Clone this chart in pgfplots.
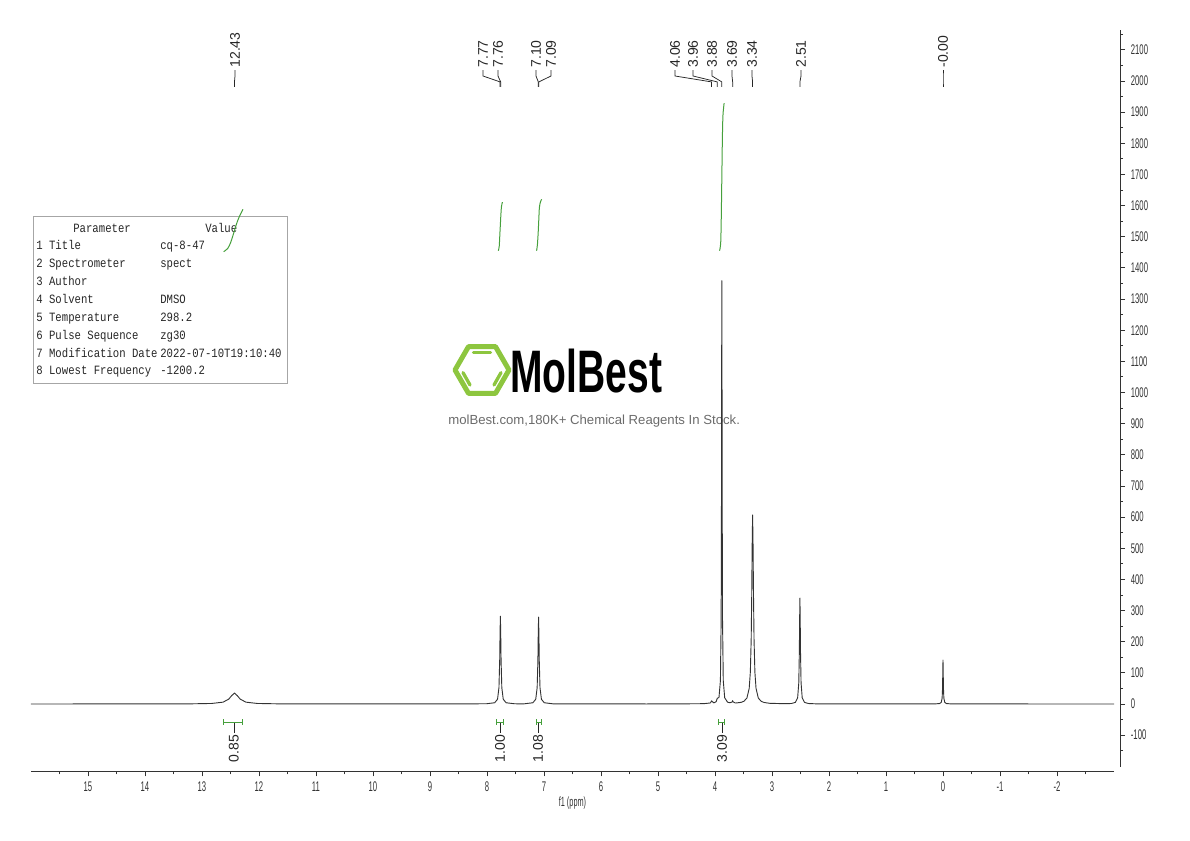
\documentclass[border=0pt]{standalone}
\usepackage{fontspec}
\usepackage{pgfplots}
\pgfplotsset{compat=1.18}
\setmainfont{Liberation Sans}
\newfontfamily\condfont[FakeStretch=0.55]{Liberation Sans}
\newfontfamily\logofont[FakeStretch=0.65]{Liberation Sans Bold}
\newfontfamily\tabfont[FakeStretch=0.84]{Liberation Mono}
\definecolor{intgreen}{RGB}{70,160,60}
\definecolor{logogreen}{RGB}{141,198,63}
\newcommand{\lblfont}{\fontsize{8.4}{9}\selectfont}
\newcommand{\pklabel}[3]{%
  \node[rotate=90, anchor=west, inner sep=0pt, font=\lblfont, text=black!85] at (axis cs:#1,2042) {#3};
  \draw[black!85, line width=0.45pt] (axis cs:#1,2035) -- (axis cs:#1,2016) -- (axis cs:#2,1997) -- (axis cs:#2,1981);
}
\newcommand{\intlabel}[4]{%
  \draw[intgreen, line width=0.6pt] (axis cs:#2,-59) -- (axis cs:#3,-59);
  \draw[intgreen, line width=0.6pt] (axis cs:#2,-49) -- (axis cs:#2,-69);
  \draw[intgreen, line width=0.6pt] (axis cs:#3,-49) -- (axis cs:#3,-69);
  \draw[black!85, line width=0.45pt] (axis cs:#1,-60) -- (axis cs:#1,-92);
  \node[rotate=90, anchor=east, inner sep=0pt, font=\lblfont, text=black!85] at (axis cs:#1,-98) {#4};
}
\pgfplotstableread{
x y
-3 0
-0.15 0.2
-0.06 1.4
-0.03 5.4
-0.015 19.4
-0.008 50.7
-0.004 97.6
0 141
0.004 97.6
0.008 50.7
0.015 19.4
0.03 5.4
0.06 1.4
0.15 0.2
2.21 0.4
2.36 1.5
2.43 5.2
2.47 20
2.49 68
2.50 170
2.505 272
2.51 340
2.515 272
2.52 170
2.53 68
2.55 20
2.59 5.2
2.66 1.5
2.81 1.1
3.04 2.2
3.14 4.9
3.19 8.6
3.24 19
3.28 50
3.30 102
3.315 207
3.325 358
3.332 507
3.34 607
3.348 507
3.355 358
3.365 207
3.38 102
3.40 50
3.44 19.3
3.49 9.1
3.54 5.3
3.64 3.05
3.685 6.95
3.69 10.9
3.695 6.9
3.74 3.8
3.78 5.9
3.83 20.1
3.855 75.2
3.868 272.5
3.874 680
3.877 1087
3.88 1359
3.883 1087
3.886 680
3.892 272.5
3.905 74.8
3.93 21.0
3.96 18.3
3.98 7.5
4.02 3.5
4.06 10.0
4.08 3.3
4.2 1.0
4.6 0.4
5.2 0.1
6.845 0.6
6.995 4.0
7.045 15.2
7.07 52.2
7.083 139.5
7.089 223
7.095 279
7.101 223
7.107 139.5
7.12 52.2
7.145 15.2
7.195 4.0
7.345 0.6
7.515 0.65
7.665 4.0
7.715 15.3
7.74 52.8
7.753 141
7.759 225.6
7.765 282
7.771 225.6
7.777 141
7.79 52.8
7.815 15.3
7.865 4.0
8.015 0.65
11.63 0.4
12.03 1.7
12.23 5.9
12.33 15.7
12.38 26.7
12.43 35
12.48 26.7
12.53 15.7
12.63 5.9
12.83 1.7
13.23 0.4
16 0
}\spectrum
\begin{document}
\begin{tikzpicture}
\path[use as bounding box] (0,0) rectangle (714pt,504.6pt);
% watermark logo
\begin{scope}[shift={(289.2pt,282.6pt)}]
  \draw[logogreen, line width=3pt, line join=round] (0:16.2pt) -- (60:16.2pt) -- (120:16.2pt) -- (180:16.2pt) -- (240:16.2pt) -- (300:16.2pt) -- cycle;
  \draw[logogreen, line width=2pt, line cap=round] (-5.1pt,10.6pt) -- (5.1pt,10.6pt);
  \draw[logogreen, line width=2pt, line cap=round] (-11.4pt,-1.6pt) -- (-7.2pt,-9.0pt);
  \draw[logogreen, line width=2pt, line cap=round] (11.4pt,-1.6pt) -- (7.2pt,-9.0pt);
\end{scope}
\node[anchor=base west, inner sep=0pt, font={\logofont\fontsize{36}{40}\selectfont}] at (306pt,268.8pt) {MolBest};
\node[anchor=base west, inner sep=0pt, font={\fontsize{7.9}{9}\selectfont}, text=black!58] at (268.8pt,249.6pt) {molBest.com,180K+ Chemical Reagents In Stock.};
% parameter table
\draw[black!35, line width=0.6pt] (19.8pt,274.2pt) rectangle (172.2pt,374.4pt);
\begin{scope}[every node/.style={anchor=base west, inner sep=0pt, font={\tabfont\fontsize{7.6}{9}\selectfont}, text=black!85}]
  \node at (43.8pt,364.8pt) {Parameter};
  \node at (123pt,364.8pt) {Value};
  \node at (21.6pt,354.6pt) {1 Title};            \node at (96pt,354.6pt) {cq-8-47};
  \node at (21.6pt,343.8pt) {2 Spectrometer};     \node at (96pt,343.8pt) {spect};
  \node at (21.6pt,333.0pt) {3 Author};
  \node at (21.6pt,322.2pt) {4 Solvent};          \node at (96pt,322.2pt) {DMSO};
  \node at (21.6pt,311.4pt) {5 Temperature};      \node at (96pt,311.4pt) {298.2};
  \node at (21.6pt,300.6pt) {6 Pulse Sequence};   \node at (96pt,300.6pt) {zg30};
  \node at (21.6pt,289.8pt) {7 Modification Date};\node at (96pt,289.8pt) {2022-07-10T19:10:40};
  \node at (21.6pt,279.6pt) {8 Lowest Frequency}; \node at (96pt,279.6pt) {-1200.2};
\end{scope}
% main spectrum axis (x axis)
\begin{axis}[
  at={(18.6pt,41.4pt)}, anchor=south west, scale only axis,
  width=649.8pt, height=445.2pt,
  xmin=-3, xmax=16, x dir=reverse,
  ymin=-218.3, ymax=2163.7,
  axis x line=bottom, axis y line=none,
  axis line style={-, black!80, line width=0.6pt},
  xtick={-2,-1,...,15}, minor xtick={-2.5,-1.5,...,15.5},
  tick align=outside, major tick length=2.6pt, minor tick length=1.4pt,
  tick style={black!80, line width=0.5pt},
  /pgf/number format/assume math mode=true,
  xticklabel style={font={\condfont\fontsize{8.4}{9}\selectfont}, text=black!80},
  xlabel={f1 (ppm)},
  xlabel style={font={\condfont\fontsize{8}{9}\selectfont}, text=black!80, yshift=4.2pt},
  clip=false,
]
\addplot[black!80, line width=0.55pt, line join=round] table[x=x, y=y] {\spectrum};
% integral curves
\addplot[intgreen, line width=0.6pt, smooth] coordinates {(12.62,1452) (12.55,1462) (12.50,1480) (12.46,1502) (12.43,1520) (12.40,1538) (12.36,1558) (12.32,1574) (12.28,1588)};
\addplot[intgreen, line width=0.6pt, smooth] coordinates {(7.80,1455) (7.785,1470) (7.775,1505) (7.765,1540) (7.755,1575) (7.745,1598) (7.73,1611)};
\addplot[intgreen, line width=0.6pt, smooth] coordinates {(7.13,1455) (7.115,1475) (7.10,1520) (7.09,1560) (7.08,1595) (7.06,1613) (7.04,1620)};
\addplot[intgreen, line width=0.6pt, smooth] coordinates {(3.92,1455) (3.90,1480) (3.89,1560) (3.88,1690) (3.87,1820) (3.86,1890) (3.84,1929)};
% peak labels
\pklabel{12.421}{12.43}{12.43}
\pklabel{8.070}{7.77}{7.77}
\pklabel{7.807}{7.76}{7.76}
\pklabel{7.140}{7.10}{7.10}
\pklabel{6.877}{7.09}{7.09}
\pklabel{4.702}{4.06}{4.06}
\pklabel{4.386}{3.96}{3.96}
\pklabel{4.053}{3.88}{3.88}
\pklabel{3.702}{3.69}{3.69}
\pklabel{3.351}{3.34}{3.34}
\pklabel{2.491}{2.51}{2.51}
\pklabel{0.0}{0.0}{-0.00}
% integrals
\intlabel{12.44}{12.614}{12.281}{0.85}
\intlabel{7.77}{7.825}{7.719}{1.00}
\intlabel{7.105}{7.14}{7.05}{1.08}
\intlabel{3.877}{3.93}{3.825}{3.09}
\end{axis}
% right intensity axis
\begin{axis}[
  at={(672pt,44.4pt)}, anchor=south east, scale only axis,
  width=30pt, height=442.2pt,
  xmin=0, xmax=1, ymin=-202.2, ymax=2163.7,
  axis x line=none, axis y line=right,
  axis line style={-, black!80, line width=0.6pt},
  ytick={-100,0,...,2100}, minor ytick={-150,-50,...,2150},
  tick align=outside, major tick length=3pt, minor tick length=1.8pt,
  tick style={black!80, line width=0.5pt},
  /pgf/number format/assume math mode=true,
  /pgf/number format/1000 sep={},
  yticklabel style={font={\condfont\fontsize{8.4}{9}\selectfont}, text=black!80},
]
\addplot[draw=none] coordinates {(0.5,0)};
\end{axis}
\end{tikzpicture}
\end{document}
